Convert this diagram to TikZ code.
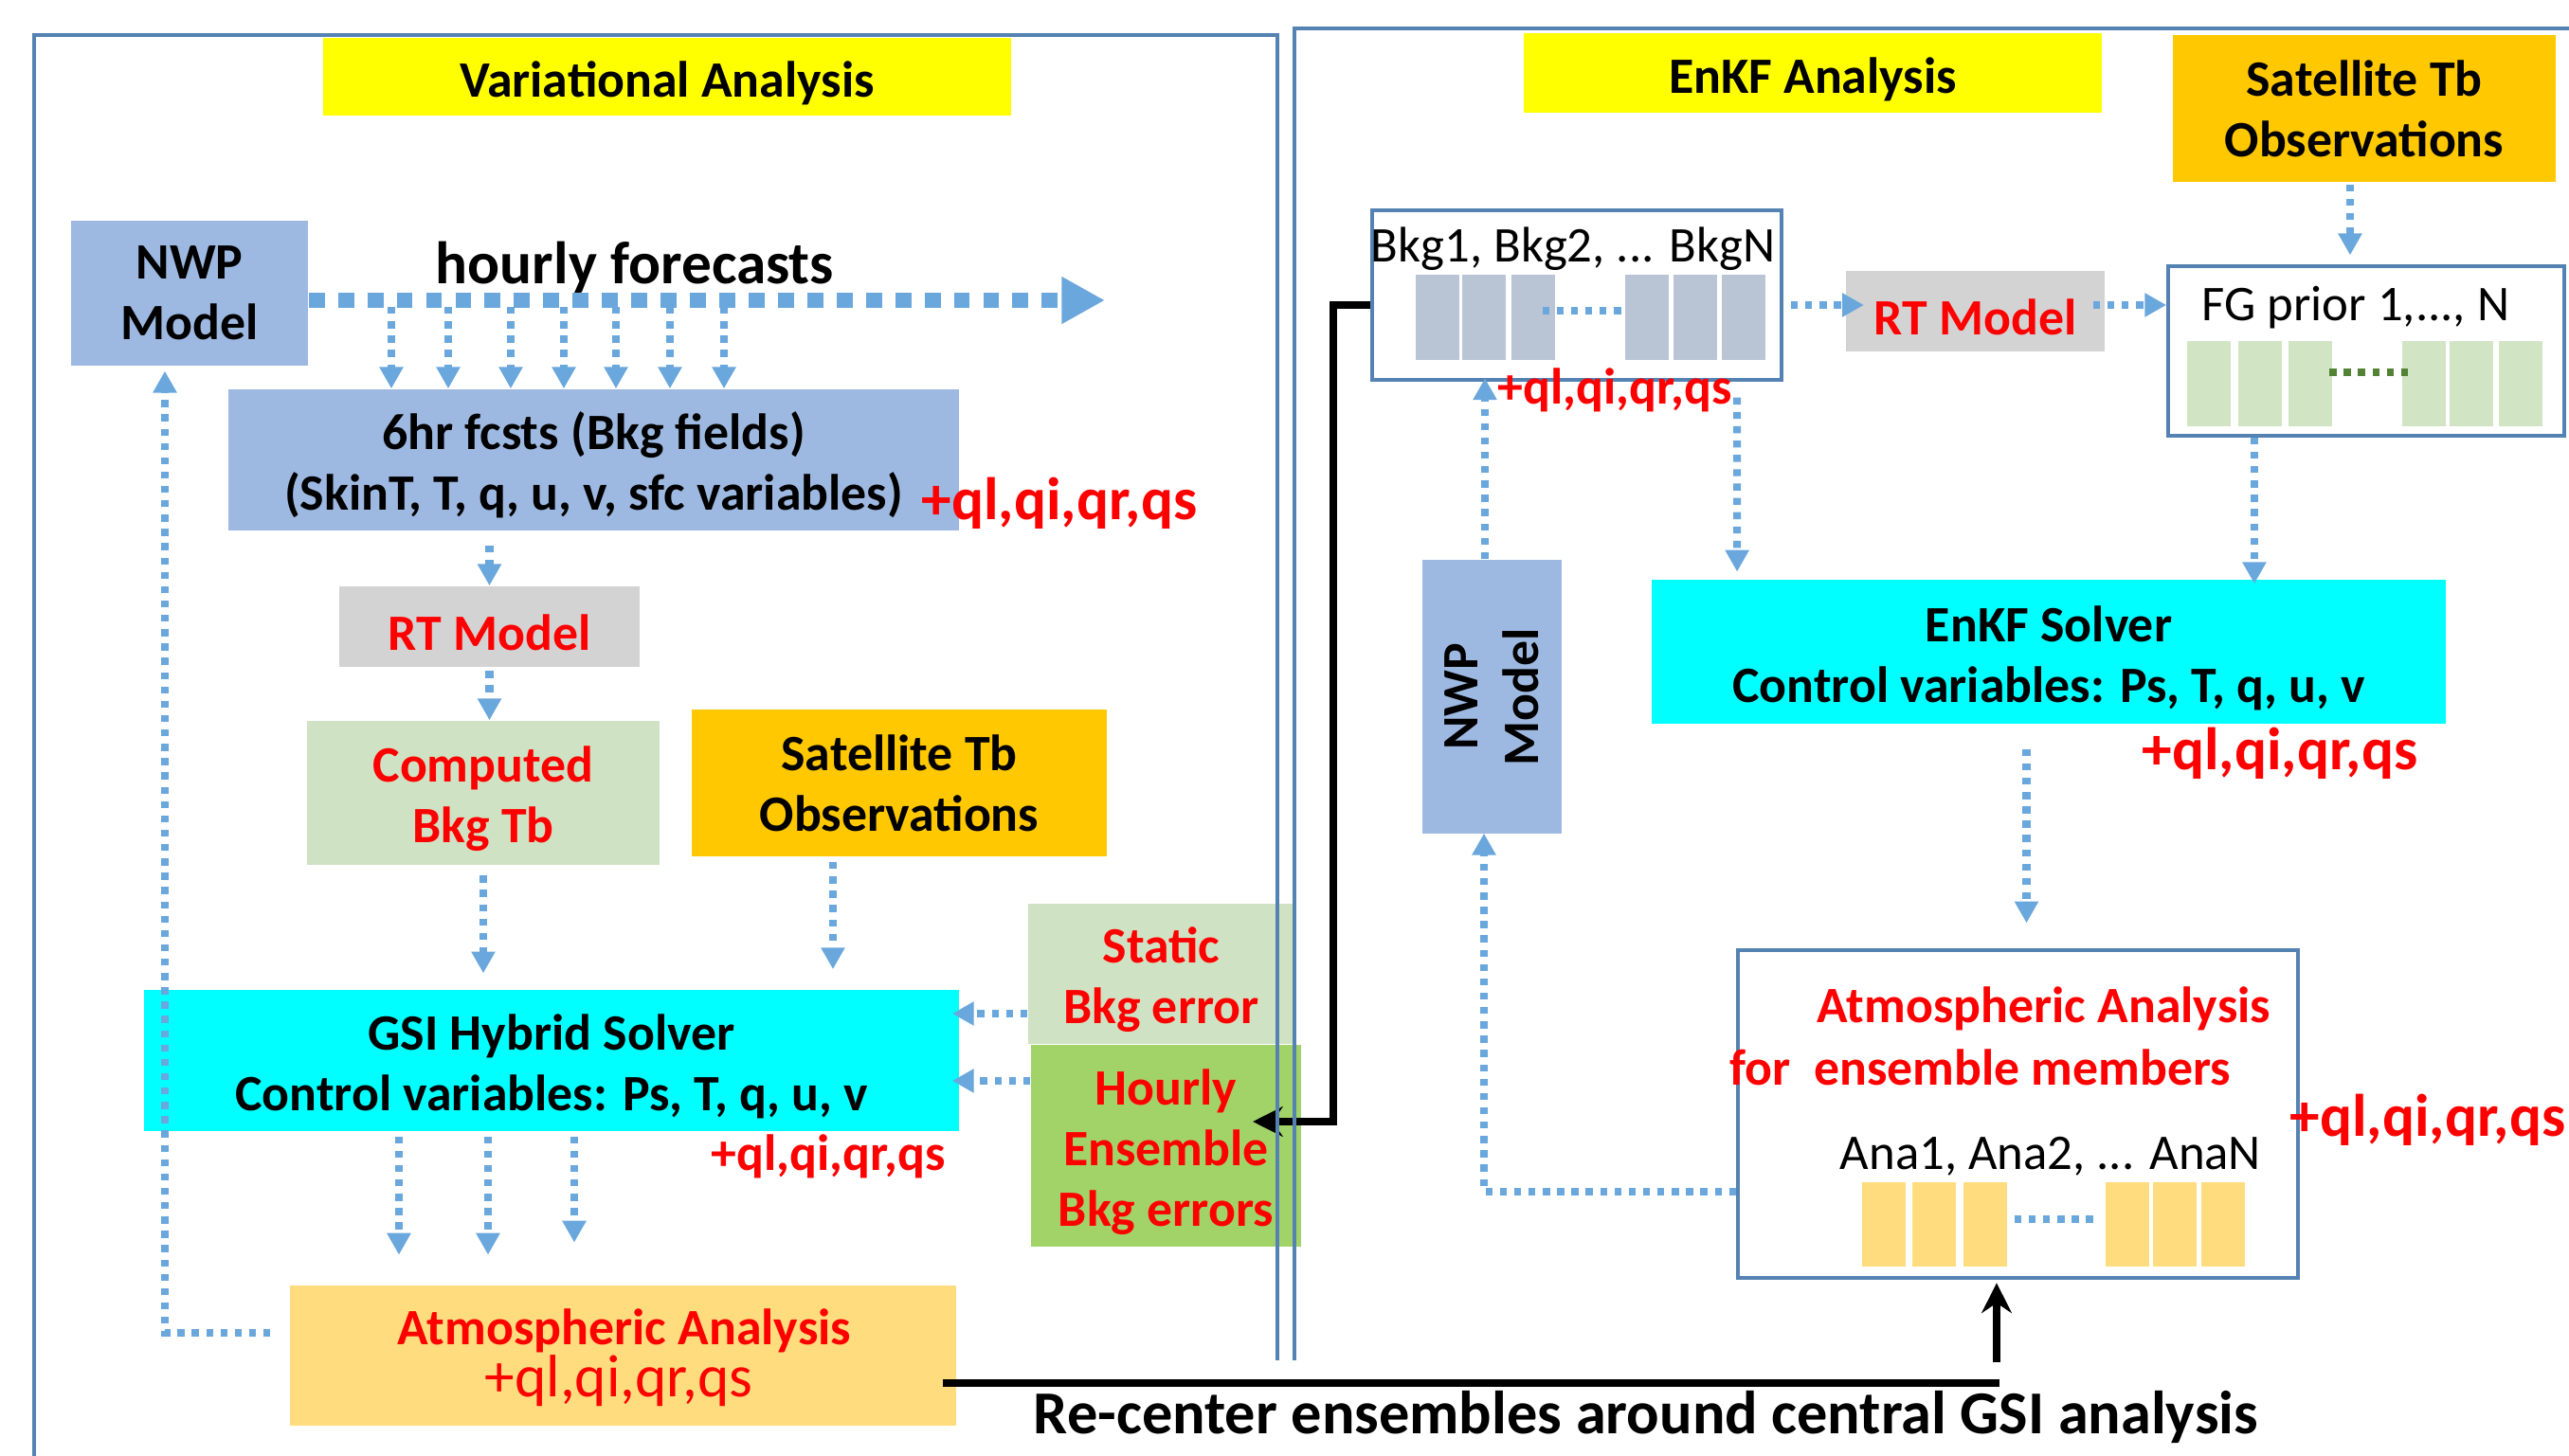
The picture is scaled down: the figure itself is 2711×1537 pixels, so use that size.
\documentclass[tikz,border=0pt]{standalone}
\usepackage{fontspec}
\setmainfont{Carlito}
\usepackage{tikz}
\usetikzlibrary{arrows.meta}
\usetikzlibrary{positioning}
\definecolor{nwpblue}{RGB}{158,185,225}
\definecolor{titleyellow}{RGB}{255,255,0}
\definecolor{obsorange}{RGB}{255,200,0}
\definecolor{rtgray}{RGB}{211,211,211}
\definecolor{lightgreen}{RGB}{207,227,196}
\definecolor{ensgreen}{RGB}{162,211,104}
\definecolor{solvercyan}{RGB}{0,255,255}
\definecolor{anayellow}{RGB}{255,221,126}
\definecolor{flowblue}{RGB}{106,167,220}
\definecolor{panelblue}{RGB}{84,130,178}
\definecolor{bkggray}{RGB}{185,197,213}
\definecolor{fggreen}{RGB}{209,229,197}
\definecolor{dotgreen}{RGB}{84,130,53}
\newcommand{\blockfont}{\bfseries\fontsize{15.3pt}{18.2pt}\selectfont}
\newcommand{\plainfont}{\fontsize{15pt}{18pt}\selectfont}
\newcommand{\bigfont}{\bfseries\fontsize{18pt}{21.6pt}\selectfont}
\newcommand{\lift}{\rule{0pt}{14.5pt}}
\tikzstyle{block} = [rectangle, inner sep=0pt, align=center, font=\blockfont, execute at begin node={\lift}]
\tikzstyle{ensbox} = [rectangle, draw=panelblue, line width=1pt, fill=white, inner sep=0pt]
\tikzstyle{member} = [rectangle, inner sep=0pt, minimum width=0.46cm, minimum height=0.9cm]
\tikzstyle{plain} = [inner sep=0pt, font=\plainfont]
\tikzstyle{redbold} = [inner sep=0pt, text=red, font=\blockfont]
\tikzstyle{qlbig} = [inner sep=0pt, text=red, font=\bigfont]
\tikzstyle{bigtext} = [inner sep=0pt, font=\bigfont]
\tikzstyle{panel} = [draw=panelblue, line width=1pt]
\tikzstyle{flow} = [draw=flowblue, line width=2.3pt, dash pattern=on 2.1pt off 2.2pt, -{Triangle[width=6.8pt,length=6.5pt]}]
\tikzstyle{bigflow} = [draw=flowblue, line width=4.8pt, dash pattern=on 4.8pt off 4pt, -{Triangle[width=13.3pt,length=13pt]}]
\tikzstyle{gapdots} = [draw=flowblue, line width=2.3pt, dash pattern=on 2.1pt off 2.2pt]
\tikzstyle{link} = [draw=black, line width=2.2pt, -{Stealth[length=9pt,width=9pt,inset=3pt]}]

\begin{document}
\begin{tikzpicture}[x=0.01cm, y=-0.01cm]
    \path[use as bounding box, fill=white] (0,0) rectangle (2711,1537);

    % Variational side
    \node [block, fill=titleyellow, minimum width=7.26cm, minimum height=0.82cm] (varTitle) at (704,81) {Variational Analysis};
    \node [block, fill=nwpblue, minimum width=2.50cm, minimum height=1.53cm] (nwpL) at (200,309.5) {NWP\\Model};
    \node [bigtext] (hourly) at (670,282) {hourly forecasts};
    \coordinate (fcEnd) at (1166,317);
    \node [block, fill=nwpblue, minimum width=7.71cm, minimum height=1.49cm] (fcst) at (626.5,485.5) {\lift 6hr fcsts (Bkg fields)\\(SkinT, T, q, u, v, sfc variables)};
    \node [qlbig] (qlFcst) at (1118,531) {+ql,qi,qr,qs};
    \node [block, fill=rtgray, text=red, minimum width=3.17cm, minimum height=0.85cm] (rtL) at (516.5,661.5) {RT Model};
    \node [block, fill=lightgreen, text=red, minimum width=3.72cm, minimum height=1.52cm] (compTb) at (510,837) {\lift Computed\\Bkg Tb};
    \node [block, fill=obsorange, minimum width=4.38cm, minimum height=1.55cm] (satL) at (949,826.5) {Satellite Tb\\Observations};
    \node [block, fill=solvercyan, minimum width=8.60cm, minimum height=1.49cm] (gsi) at (582,1119.5) {\lift GSI Hybrid Solver\\Control variables: Ps, T, q, u, v};
    \node [redbold] (qlGsi) at (874,1221) {+ql,qi,qr,qs};
    \node [block, fill=lightgreen, text=red, minimum width=2.81cm, minimum height=1.48cm] (staticErr) at (1225.5,1028) {\lift Static\\Bkg error};
    \node [block, fill=ensgreen, text=red, minimum width=2.85cm, minimum height=2.13cm] (hourlyErr) at (1230.5,1209.5) {\lift Hourly\\Ensemble\\Bkg errors};
    \node [block, fill=anayellow, minimum width=7.03cm, minimum height=1.48cm] (atmL) at (657.5,1431) {};
    \node [redbold] (atmTitle) at (659,1405) {Atmospheric Analysis};
    \node [inner sep=0pt, text=red, font=\fontsize{18pt}{18pt}\selectfont] (atmTracers) at (653,1458) {+ql,qi,qr,qs};

    % EnKF side
    \node [block, fill=titleyellow, minimum width=6.10cm, minimum height=0.84cm] (enkfTitle) at (1913,77) {EnKF Analysis};
    \node [block, fill=obsorange, minimum width=4.04cm, minimum height=1.55cm] (satR) at (2495,114.5) {Satellite Tb\\Observations};
    \node [ensbox, minimum width=4.32cm, minimum height=1.79cm] (bkg) at (1664,311.5) {};
    \node [plain] (bkgNames) at (1660,263) {Bkg1, Bkg2, ... BkgN};
    \foreach \x [count=\i] in {1516.5,1565.5,1617.5,1738,1789,1839.5}
        \node [member, fill=bkggray] (bkgBar\i) at (\x,335) {};
    \node [redbold] (qlBkg) at (1704,412) {+ql,qi,qr,qs};
    \node [block, fill=rtgray, text=red, minimum width=2.73cm, minimum height=0.85cm] (rtR) at (2084.5,328.5) {RT Model};
    \node [ensbox, minimum width=4.18cm, minimum height=1.79cm] (fg) at (2497,370.5) {};
    \node [plain] (fgNames) at (2486,325) {FG prior 1,..., N};
    \foreach \x [count=\i] in {2331,2385,2438,2558,2608,2660}
        \node [member, fill=fggreen] (fgBar\i) at (\x,405) {};
    \node [block, fill=solvercyan, minimum width=8.38cm, minimum height=1.52cm] (enkf) at (2162,688) {\lift EnKF Solver\\Control variables: Ps, T, q, u, v};
    \node [qlbig] (qlEnkf) at (2406,795) {+ql,qi,qr,qs};
    \node [block, fill=nwpblue, minimum width=1.47cm, minimum height=2.89cm] (nwpR) at (1574.5,735.5) {};
    \node [block, rotate=90, execute at begin node={}] (nwpRText) at (nwpR.center) {NWP\\Model};
    \node [ensbox, minimum width=5.91cm, minimum height=3.46cm] (ana) at (2129.5,1176) {};
    \node [redbold] (anaTitle) at (2157,1065) {Atmospheric Analysis};
    \node [redbold] (anaMembers) at (2090,1127) {for\ \ ensemble members};
    \node [qlbig] (qlAna) at (2562,1182) {+ql,qi,qr,qs};
    \node [plain] (anaNames) at (2164,1221) {Ana1, Ana2, ... AnaN};
    \foreach \x [count=\i] in {1988,2041,2095,2244.5,2295,2346}
        \node [member, fill=anayellow, minimum height=0.89cm] (anaBar\i) at (\x,1292.5) {};
    \node [bigtext, font=\bfseries\fontsize{18.3pt}{22pt}\selectfont] (recenter) at (1737,1496) {Re-center ensembles around central GSI analysis};

    % Connecting the nodes
    \draw [bigflow] (nwpL.east |- fcEnd) -- (fcEnd);
    \foreach \x in {413,473,539,595,650,707,764}
        \draw [flow, shorten <=2pt] (\x,0 |- fcEnd) -- (\x,0 |- fcst.north);
    \draw [flow, shorten <=4.2pt] (rtL.north |- fcst.south) -- (rtL.north);
    \draw [flow, shorten <=1pt] (rtL.south) -- (rtL.south |- compTb.north);
    \draw [flow, shorten <=3pt, shorten >=4.8pt] (compTb.south) -- (compTb.south |- gsi.north);
    \draw [flow, shorten <=1.5pt, shorten >=6pt] ([xshift=-0.7cm]satL.south) -- ([xshift=-0.7cm]satL.south |- gsi.north);
    \draw [flow, shorten >=-2.3pt] ([yshift=-0.42cm]staticErr.west) -- ([yshift=-0.42cm]staticErr.west -| gsi.east);
    \draw [flow, shorten >=-2.3pt] ([yshift=0.685cm]hourlyErr.west) -- ([yshift=0.685cm]hourlyErr.west -| gsi.east);
    \foreach \x/\s in {421/9, 515/9, 606/12.7}
        \draw [flow, shorten <=1.4pt, shorten >=\s pt] (\x,0 |- gsi.south) -- (\x,0 |- atmL.north);
    \draw [flow, shorten <=5.6pt, shorten >=1.4pt] ([yshift=0.24cm]atmL.west) -| ([xshift=-0.26cm]nwpL.south);

    \draw [gapdots] ([xshift=0.1cm, yshift=0.07cm]bkgBar3.center) -- ([yshift=0.07cm]bkgBar4.west);
    \draw [gapdots, draw=dotgreen, shorten <=-1pt, shorten >=-3pt] ([yshift=0.12cm]fgBar3.east) -- ([yshift=0.12cm]fgBar4.west);
    \draw [gapdots, shorten <=2pt, shorten >=2pt] ([yshift=0.055cm]anaBar3.east) -- ([yshift=0.055cm]anaBar4.west);
    \draw [flow, shorten <=2.3pt, shorten >=-5.6pt] ([yshift=-0.105cm]bkg.east) -- ([yshift=-0.105cm]bkg.east -| rtR.west);
    \draw [flow, shorten <=-3.7pt] ([yshift=0.065cm]rtR.east) -- ([yshift=0.065cm]rtR.east -| fg.west);
    \draw [flow, shorten <=0.6pt, shorten >=2.8pt] ([xshift=-0.15cm]satR.south) -- ([xshift=-0.15cm]satR.south |- fg.north);
    \draw [flow, shorten >=-1.4pt] ([xshift=-1.18cm]fg.south) -- ([xshift=-1.18cm]fg.south |- enkf.north);
    \draw [flow, shorten <=4.8pt, shorten >=2.2pt] (bkg.south -| enkf.west) ++(91,0) -- ([xshift=0.91cm]enkf.north west);
    \draw [flow, shorten >=-1pt] ([xshift=-0.075cm]nwpR.north) -- ([xshift=-0.075cm]nwpR.north |- bkg.south);
    \draw [flow, shorten <=7.4pt, shorten >=7.6pt] ([xshift=-0.235cm]enkf.south) -- ([xshift=-0.235cm]enkf.south |- ana.north);
    \draw [flow, shorten >=-0.3pt] ([yshift=-0.82cm]ana.west) -| ([xshift=-0.085cm]nwpR.south);

    \coordinate (ensIn) at (1322,1184);
    \draw [link] ([yshift=-0.105cm]bkg.west) -- ++(-39,0) |- (ensIn);
    \coordinate (recEnd) at (2110,1460);
    \draw [draw=black, line width=2.2pt, shorten <=-4.2pt] (atmL.east |- recEnd) -- (recEnd);
    \coordinate (recUp) at (2107,1438);
    \draw [link, shorten >=1pt] (recUp) -- (recUp |- ana.south);

    % Panels
    \draw [panel] (36,1537) -- (36,37) -- (1348,37) -- (1348,1436);
    \draw [panel] (1366,1436) -- (1366,30) -- (2711,30);
\end{tikzpicture}
\end{document}
